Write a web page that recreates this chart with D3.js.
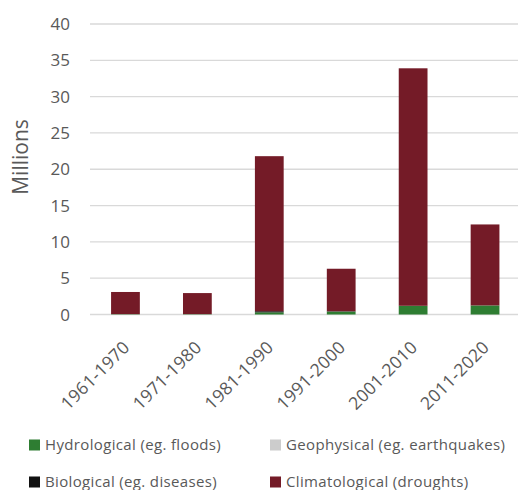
<!DOCTYPE html>
<html>
<head>
<meta charset="utf-8">
<script src="https://cdn.jsdelivr.net/npm/d3@7"></script>
<style>
  html, body { margin: 0; padding: 0; background: #fff; }
  svg { display: block; font-family: "Open Sans", "Liberation Sans", sans-serif; }
</style>
</head>
<body>
<svg id="chart" width="518" height="490"></svg>
<script>
// Affected people per decade, in millions, by disaster type
const decades = ["1961-1970", "1971-1980", "1981-1990", "1991-2000", "2001-2010", "2011-2020"];
const hydrological = [0.05, 0.05, 0.3, 0.4, 1.2, 1.25];
const geophysical = [0, 0, 0, 0, 0, 0];
const biological = [0, 0, 0.15, 0.05, 0, 0];
const climatological = [3.05, 2.9, 21.35, 5.85, 32.7, 11.15];
const yTicks = [0, 5, 10, 15, 20, 25, 30, 35, 40];

const seriesNames = ["Hydrological (eg. floods)", "Geophysical (eg. earthquakes)", "Biological (eg. diseases)", "Climatological (droughts)"];
const seriesKeys = ["hydro", "geo", "bio", "clim"];
const colors = ["#2e7d32", "#cccccc", "#111111", "#741b27"];

const rows = decades.map((d, i) => ({
  decade: d, hydro: hydrological[i], geo: geophysical[i], bio: biological[i], clim: climatological[i]
}));

const svg = d3.select("#chart");
const textColor = "#595959";

const x = d3.scaleBand().domain(decades).range([89.5, 521]).paddingInner(0.6).paddingOuter(0.3);
const y = d3.scaleLinear().domain([0, 40]).range([314.5, 24]);

// Gridlines
svg.append("g")
  .selectAll("line")
  .data(yTicks)
  .join("line")
  .attr("x1", 90).attr("x2", 518)
  .attr("y1", d => y(d)).attr("y2", d => y(d))
  .attr("stroke", "#d9d9d9").attr("stroke-width", 1.3);

// Y tick labels
svg.append("g")
  .selectAll("text")
  .data(yTicks)
  .join("text")
  .attr("x", 70).attr("y", d => y(d))
  .attr("dy", "0.36em")
  .attr("text-anchor", "end")
  .attr("fill", textColor)
  .attr("font-size", 17)
  .text(d => d);

// Y axis title
svg.append("text")
  .attr("transform", "translate(28, 157) rotate(-90)")
  .attr("text-anchor", "middle")
  .attr("fill", textColor)
  .attr("font-size", 21)
  .text("Millions");

// Stacked bars
const stacked = d3.stack().keys(seriesKeys)(rows);
svg.append("g")
  .selectAll("g")
  .data(stacked)
  .join("g")
  .attr("fill", (d, i) => colors[i])
  .selectAll("rect")
  .data(d => d)
  .join("rect")
  .attr("x", d => x(d.data.decade))
  .attr("width", x.bandwidth())
  .attr("y", d => y(d[1]))
  .attr("height", d => Math.max(0, y(d[0]) - y(d[1])));

// X tick labels, rotated
svg.append("g")
  .selectAll("text")
  .data(decades)
  .join("text")
  .attr("transform", d => `translate(${x(d) + x.bandwidth() / 2 + 1}, 344) rotate(-45)`)
  .attr("text-anchor", "end")
  .attr("dy", "0.35em")
  .attr("fill", textColor)
  .attr("font-size", 17.5)
  .attr("letter-spacing", 0.3)
  .text(d => d);

// Legend
const legendPos = [[29, 445], [270, 445], [29, 482], [270, 482]];
const legend = svg.append("g")
  .selectAll("g")
  .data(seriesNames)
  .join("g")
  .attr("transform", (d, i) => `translate(${legendPos[i][0]}, ${legendPos[i][1]})`);
legend.append("rect")
  .attr("x", 0).attr("y", -5.5).attr("width", 11).attr("height", 11)
  .attr("fill", (d, i) => colors[i]);
legend.append("text")
  .attr("x", 16).attr("dy", "0.35em")
  .attr("fill", textColor)
  .attr("font-size", 15)
  .attr("letter-spacing", 0.35)
  .text(d => d);
</script>
</body>
</html>
